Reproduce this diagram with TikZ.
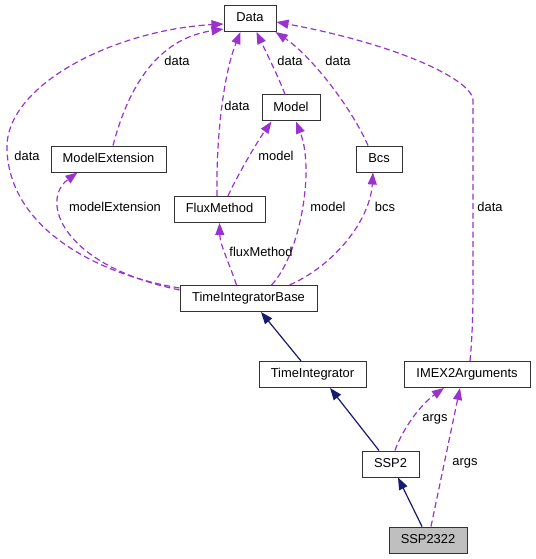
\documentclass[tikz,border=0pt]{standalone}
\usepackage{fontspec}
\setmainfont{Liberation Sans}
\usetikzlibrary{arrows.meta}
\definecolor{dep}{HTML}{9A32CD}
\definecolor{inh}{HTML}{191970}
\definecolor{boxline}{HTML}{333333}
\tikzset{
  cls/.style={draw=boxline, line width=1pt, fill=white, inner sep=0pt, minimum height=26pt, text height=9.5pt, text depth=3pt, font=\fontsize{12.9}{15}\selectfont},
  focus/.style={cls, fill=black!25},
  usage/.style={draw=dep, line width=1.2pt, dash pattern=on 6pt off 3.5pt, -{Triangle[length=12pt,width=9pt,fill=dep]}},
  inherit/.style={draw=inh, line width=1.2pt, -{Triangle[length=12pt,width=9pt,fill=inh]}},
  lbl/.style={inner sep=0pt, text height=9.5pt, text depth=2.5pt, font=\fontsize{12.9}{15}\selectfont}
}
\begin{document}
\begin{tikzpicture}[x=1pt,y=-1pt]
\useasboundingbox (0,0) rectangle (535,559);
% classes
\node[cls, minimum width=52pt] (data) at (250,18.5) {Data};
\node[cls, minimum width=115pt] (me) at (108.5,159) {ModelExtension};
\node[cls, minimum width=91pt] (fm) at (219.5,209.5) {FluxMethod};
\node[cls, minimum width=58pt] (model) at (291,108) {Model};
\node[cls, minimum width=46pt] (bcs) at (379,159) {Bcs};
\node[cls, minimum width=137pt] (tib) at (248.5,298.5) {TimeIntegratorBase};
\node[cls, minimum width=107pt] (ti) at (312.5,374.5) {TimeIntegrator};
\node[cls, minimum width=126pt] (imex) at (467,374.5) {IMEX2Arguments};
\node[cls, minimum width=57pt] (ssp2) at (390.5,464) {SSP2};
\node[focus, minimum width=78pt] (s22) at (428,540) {SSP2322};
% usage connectors
\draw[usage] ([yshift=-3pt]tib.north west) .. controls (100,275) and (10,230) .. (7,150)
   .. controls (4,85) and (115,30) .. ([yshift=-5.5pt]data.west);
\draw[usage] ([xshift=4.5pt]me.north) .. controls (125,100) and (150,40) .. ([yshift=-10.5pt]data.west);
\draw[usage] ([xshift=-2.5pt]fm.north) .. controls (216,130) and (225,70) .. ([xshift=17pt]data.south west);
\draw[usage] ([xshift=-6pt]model.north) .. controls (280,80) and (265,50) .. ([xshift=33pt]data.south west);
\draw[usage] ([xshift=-11pt]bcs.north) .. controls (350,105) and (310,55) .. ([xshift=-1pt]data.south east);
\draw[usage] ([xshift=3pt]imex.north) .. controls (473,330) and (473,300) .. (473,270) -- (473,100)
   .. controls (472,80) and (400,45) .. ([yshift=-3.5pt]data.east);
\draw[usage] ([xshift=8.5pt]fm.north) .. controls (235,180) and (255,145) .. ([xshift=10pt]model.south west);
\draw[usage] ([yshift=-5pt]tib.north west) .. controls (60,265) and (40,200) .. ([xshift=27pt]me.south west);
\draw[usage] ([xshift=57pt]tib.north west) .. controls (230,265) and (220,245) .. (fm.south);
\draw[usage] ([xshift=92pt]tib.north west) .. controls (300,255) and (315,170) .. ([xshift=5pt]model.south);
\draw[usage] ([xshift=110pt]tib.north west) .. controls (335,265) and (370,220) .. ([xshift=-6pt]bcs.south);
\draw[usage] ([xshift=4.5pt]ssp2.north) .. controls (402,430) and (420,405) .. ([xshift=-23pt]imex.south);
\draw[usage] ([xshift=3pt]s22.north) -- ([xshift=-7pt]imex.south);
% inheritance connectors
\draw[inherit] ([xshift=-11.5pt]ti.north) -- ([xshift=12.5pt]tib.south);
\draw[inherit] ([xshift=-11.5pt]ssp2.north) -- ([xshift=17.5pt]ti.south);
\draw[inherit] ([xshift=-6pt]s22.north) -- ([xshift=7.5pt]ssp2.south);
% labels
\node[lbl] (l1) at (27,157) {data};
\node[lbl] (l2) at (177,62) {data};
\node[lbl] (l3) at (237,107) {data};
\node[lbl] (l4) at (290,62) {data};
\node[lbl] (l5) at (338,62) {data};
\node[lbl] (l6) at (490,208) {data};
\node[lbl] (l7) at (276,157) {model};
\node[lbl] (l8) at (115,208) {modelExtension};
\node[lbl] (l9) at (261,253) {fluxMethod};
\node[lbl] (l10) at (328,208) {model};
\node[lbl] (l11) at (385,208) {bcs};
\node[lbl] (l12) at (435,418) {args};
\node[lbl] (l13) at (465,462) {args};
\end{tikzpicture}
\end{document}
